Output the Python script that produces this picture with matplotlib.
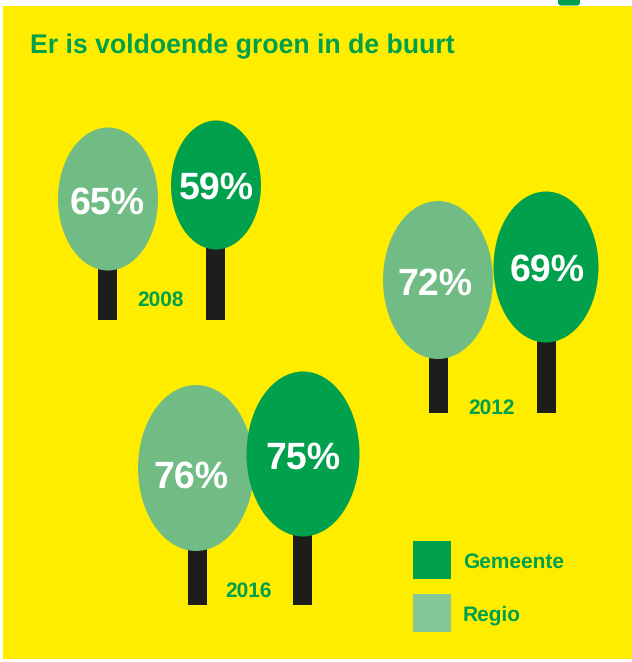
import matplotlib
matplotlib.use("Agg")
import matplotlib.pyplot as plt
from matplotlib.patches import Ellipse, Rectangle, FancyBboxPatch

plt.rcParams["font.family"] = ["Liberation Sans", "DejaVu Sans"]
plt.rcParams["text.hinting"] = "none"

YELLOW = "#FFED00"
GREEN = "#00A04D"
LIGHT = "#70BC84"
TRUNK = "#1D1D1B"

title = "Er is voldoende groen in de buurt"
years = ["2008", "2012", "2016"]
regio = [65, 72, 76]
gemeente = [59, 69, 75]
legend_labels = ["Gemeente", "Regio"]

# pixel layout of each tree pair: cx, cy, w, h, trunk x, trunk bottom, label x, label y
regio_pos = [(108, 199, 100, 143, 107.5, 320, 107, 203.5),
             (438, 280, 110, 158, 438.5, 413, 435, 284.5),
             (196, 468, 116, 166, 197.5, 605, 191, 477.5)]
gem_pos = [(216, 185, 90, 129, 215.5, 320, 216, 188.5),
           (546, 267, 105, 151, 546.5, 413, 547, 270.5),
           (303, 454, 113, 165, 302.5, 605, 303, 458.5)]
year_pos = [(160.5, 300), (491.5, 408), (248, 591)]

fig = plt.figure(figsize=(6.32, 6.62), dpi=100, facecolor="white")
ax = fig.add_axes([0, 0, 1, 1])
ax.set_xlim(0, 632)
ax.set_ylim(662, 0)
ax.axis("off")

# background sheet
ax.add_patch(Rectangle((3, 6), 629, 653, color=YELLOW, lw=0))
# bit of the next page's mark at the top edge
ax.add_patch(FancyBboxPatch((558, -4), 22, 9.5, boxstyle="round,pad=0,rounding_size=3", color=GREEN, lw=0))

ax.text(30, 46, title, color=GREEN, fontsize=19.2, fontweight="bold", va="center", ha="left")


def tree(pos, color, value):
    cx, cy, w, h, tx, bottom, lx, ly = pos
    tw = 19
    ax.add_patch(Rectangle((tx - tw / 2, cy), tw, bottom - cy, color=TRUNK, lw=0, zorder=2))
    ax.add_patch(Ellipse((cx, cy), w, h, color=color, lw=0, zorder=3))
    ax.text(lx, ly, f"{value}%", color="white", fontsize=27, fontweight="bold",
            ha="center", va="center", zorder=5)


for i in range(3):
    tree(regio_pos[i], LIGHT, regio[i])
    tree(gem_pos[i], GREEN, gemeente[i])
    ax.text(year_pos[i][0], year_pos[i][1], years[i], color=GREEN, fontsize=15, fontweight="bold",
            ha="center", va="center")

# legend
for y, c, lab in zip([541, 594], [GREEN, "#86C798"], legend_labels):
    ax.add_patch(Rectangle((413, y), 38, 38, color=c, lw=0))
    ax.text(463, y + 21, lab, color=GREEN, fontsize=15, fontweight="bold", va="center", ha="left")

fig.savefig("out.png", dpi=100, facecolor="white")
